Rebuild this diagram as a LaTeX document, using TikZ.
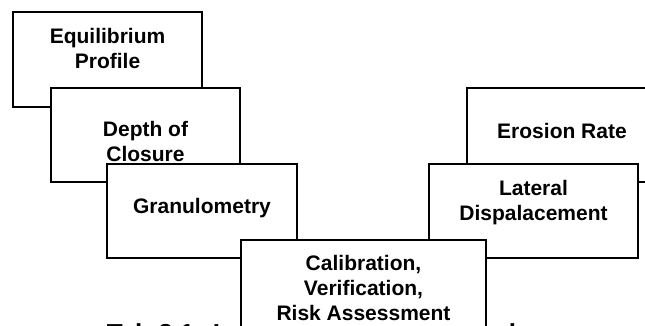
\documentclass[tikz,border=0pt]{standalone}
\usepackage{fontspec}
\setmainfont{Liberation Sans}
\begin{document}
\begin{tikzpicture}[x=1pt,y=-1pt,
  box/.style={draw=black, line width=1.8pt, fill=white, rectangle, inner sep=0pt, outer sep=0pt, line join=miter},
  lbl/.style={anchor=base, inner sep=0pt, text=black, font=\bfseries\fontsize{21}{25}\selectfont},
  captionstyle/.style={anchor=base west, inner sep=0pt, text=black, font=\bfseries\fontsize{26}{30}\selectfont}
]
\useasboundingbox (0,0) rectangle (645,325);
\clip (0,0) rectangle (645,325);
\fill[white] (0,0) rectangle (645,325);

% left stack
\node[box, minimum width=189pt, minimum height=95pt] (b1) at (107.5,59.5) {};
\node[lbl] (t1a) at (107.5,43.3) {Equilibrium};
\node[lbl] (t1b) at (107.5,68.3) {Profile};

\node[box, minimum width=189pt, minimum height=94pt] (b2) at (145.5,135) {};
\node[lbl] (t2a) at (145.5,136) {Depth of};
\node[lbl] (t2b) at (145.5,161) {Closure};

\node[box, minimum width=190pt, minimum height=94pt] (b3) at (202,211) {};
\node[lbl] (t3) at (202,213.3) {Granulometry};

% right stack
\node[box, minimum width=189pt, minimum height=94pt] (b5) at (561.5,135) {};
\node[lbl] (t5) at (562,138.5) {Erosion Rate};

\node[box, minimum width=209pt, minimum height=94pt] (b6) at (533.5,211) {};
\node[lbl] (t6a) at (533.5,195) {Lateral};
\node[lbl] (t6b) at (533.5,220) {Dispalacement};

% caption (mostly hidden behind the centre box and the lower edge)
\node[captionstyle] (cap) at (106.6,342.5) {Tab 2.1: Input parameters for a shore};

% centre box
\node[box, minimum width=245pt, minimum height=110pt] (b4) at (363.5,295) {};
\node[lbl] (t4a) at (363.5,270) {Calibration,};
\node[lbl] (t4b) at (363.5,295) {Verification,};
\node[lbl] (t4c) at (363.5,320) {Risk Assessment};
\end{tikzpicture}
\end{document}
